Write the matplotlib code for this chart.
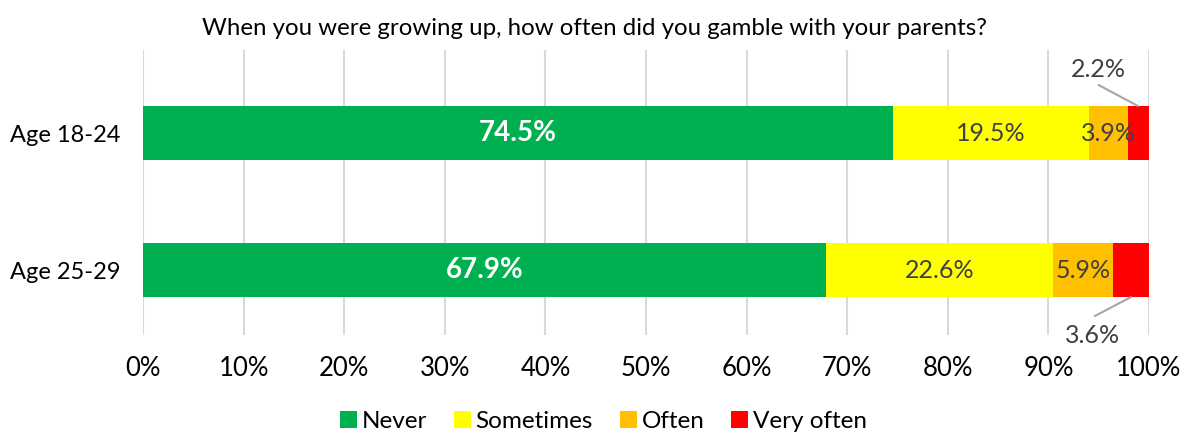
import matplotlib
matplotlib.use("Agg")
import matplotlib.pyplot as plt
from matplotlib.ticker import PercentFormatter

categories = ["Age 25-29", "Age 18-24"]
series_names = ["Never", "Sometimes", "Often", "Very often"]
never = [67.9, 74.5]
sometimes = [22.6, 19.5]
often = [5.9, 3.9]
very_often = [3.6, 2.2]
colors = ["#00B050", "#FFFF00", "#FFC000", "#FF0000"]
title = "When you were growing up, how often did you gamble with your parents?"

plt.rcParams['font.family'] = ['Lato', 'DejaVu Sans']

fig = plt.figure(figsize=(11.88, 4.37), dpi=100)
ax = fig.add_axes([0.1204, 0.2334, 0.8468, 0.6522])

ypos = [0, 1]
bar_h = 0.394
all_series = [never, sometimes, often, very_often]
lefts = [0.0, 0.0]
for name, vals, col in zip(series_names, all_series, colors):
    ax.barh(ypos, vals, left=lefts, height=bar_h, color=col, label=name, zorder=3)
    for i, (y, v, l) in enumerate(zip(ypos, vals, lefts)):
        cx = l + v / 2
        if name == "Never":
            ax.text(cx, y, f"{v:.1f}%", ha="center", va="center", color="white",
                    fontsize=20, fontweight="bold", zorder=4)
        elif name == "Very often":
            pass
        else:
            ax.text(cx, y, f"{v:.1f}%", ha="center", va="center", color="#404040",
                    fontsize=18, zorder=4)
    lefts = [a + b for a, b in zip(lefts, vals)]

line_kw = dict(arrowstyle="-", color="#A6A6A6", lw=1.5, shrinkA=0, shrinkB=0)

# Callout for "Very often", Age 18-24 (top bar)
mid_top = never[1] + sometimes[1] + often[1] + very_often[1] / 2
ax.text(mid_top - 4.0, 1.467, f"{very_often[1]:.1f}%", ha="center", va="center",
        fontsize=18, color="#404040", zorder=5)
ax.annotate("", xy=(mid_top - 0.1, 1 + bar_h / 2), xytext=(mid_top - 4.0, 1.35),
            arrowprops=line_kw, zorder=5)

# Callout for "Very often", Age 25-29 (bottom bar)
mid_bot = never[0] + sometimes[0] + often[0] + very_often[0] / 2
ax.text(mid_bot - 3.8, -0.474, f"{very_often[0]:.1f}%", ha="center", va="center",
        fontsize=18, color="#404040", zorder=5, clip_on=False)
ax.annotate("", xy=(mid_bot, -bar_h / 2), xytext=(mid_bot - 3.6, -0.336),
            arrowprops=line_kw, zorder=5, annotation_clip=False)

ax.set_xlim(0, 100)
ax.set_ylim(-0.474, 1.606)
ax.set_xticks(range(0, 101, 10))
ax.xaxis.set_major_formatter(PercentFormatter(decimals=0))
ax.set_yticks(ypos)
ax.set_yticklabels(categories)
ax.tick_params(axis="both", length=0, colors="#000000")
ax.tick_params(axis="x", pad=15, labelsize=18.5)
ax.tick_params(axis="y", pad=16.5, labelsize=17)
ax.grid(axis="x", color="#D9D9D9", lw=1.5, zorder=0)
for s in ax.spines.values():
    s.set_visible(False)

fig.text(0.5, 0.935, title, ha="center", va="center", fontsize=17.3, color="#000000")

leg = fig.legend(loc="center", bbox_to_anchor=(0.508, 0.035), ncol=4, frameon=False,
                 fontsize=17.5, handlelength=0.7, handleheight=0.7, handletextpad=0.2,
                 columnspacing=1.1)

fig.savefig("out.png", dpi=100)
